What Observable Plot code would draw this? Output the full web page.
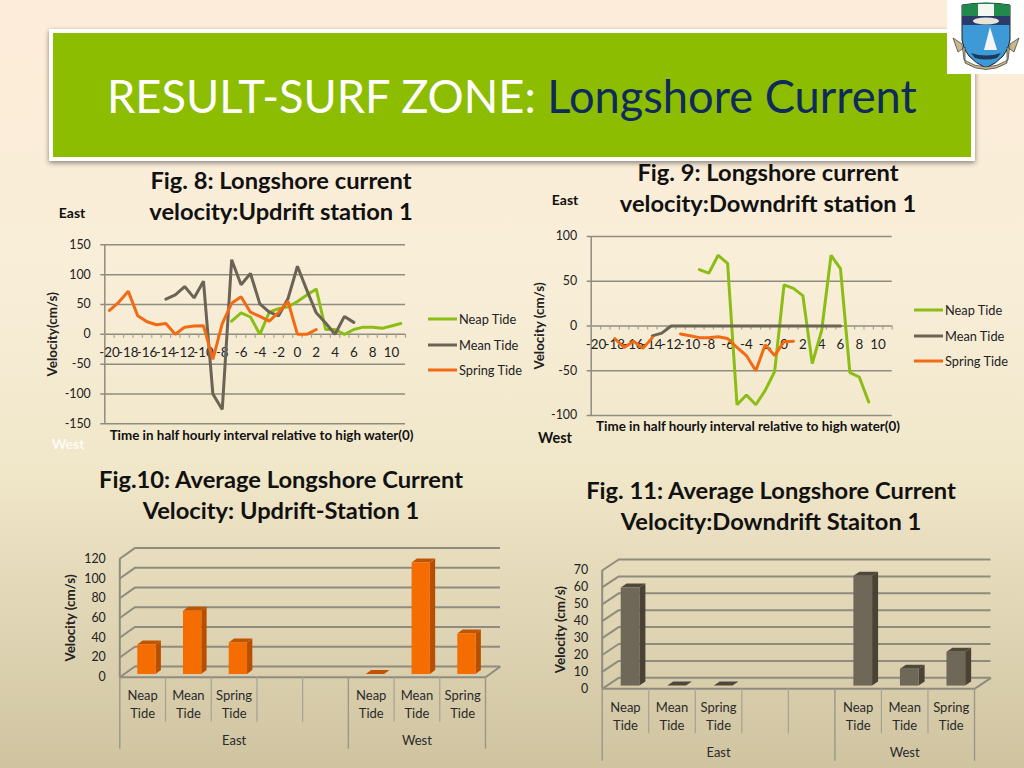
<!DOCTYPE html>
<html><head><meta charset="utf-8">
<script src="https://cdn.jsdelivr.net/npm/d3@7"></script>
<script src="https://cdn.jsdelivr.net/npm/@observablehq/plot@0.6"></script>
<style>
html,body{margin:0;padding:0;width:1024px;height:768px;overflow:hidden}
body{position:relative;font-family:Lato,"Open Sans",sans-serif;background:linear-gradient(180deg,#fdecd9 0%,#f8eed8 38%,#f0e6c8 62%,#cfc3a0 100%)}
.abs{position:absolute;white-space:nowrap}
.hdr{left:49px;top:29px;width:918px;height:124px;background:#8cbd00;border:4px solid #fff;box-shadow:0 2px 5px rgba(0,0,0,.45)}
.ttl{left:107px;top:64px;font-size:47px;line-height:62px;color:#fff;transform:scaleX(.962);transform-origin:left center}
.ttl span{color:#0f2a5c}
.fig{font-weight:700;font-size:23.7px;line-height:31px;color:#111;text-align:center;transform:translateX(-50%)}
.dir{font-weight:700;color:#111;transform:translate(-50%,-50%)}
.leg{font-size:12.8px;color:#222;line-height:14px;transform:translateY(-50%)}
.sw{position:absolute;height:3px;transform:translateY(-50%)}
.c{position:absolute}
</style></head><body>
<div class="abs hdr"></div>
<div class="abs ttl">RESULT-SURF ZONE: <span>Longshore Current</span></div>
<svg class="abs" style="left:947px;top:0" width="77" height="74" viewBox="0 0 77 74">
<rect width="77" height="74" fill="#fff"/>
<path d="M15 5Q39 1 63 5L63 40Q61 58 39 68Q17 58 15 40Z" fill="#3d9ad6" stroke="#222" stroke-width="1"/>
<path d="M15 5Q39 1 63 5L63 16L15 16Z" fill="#1f8a4c"/>
<rect x="31" y="4" width="16" height="12" fill="#f4f7f0"/>
<rect x="15" y="16" width="48" height="9" fill="#2b3a6b"/>
<ellipse cx="39" cy="21" rx="13" ry="3.5" fill="#e9e6d6"/>
<path d="M43 27L50 50L37 50Z" fill="#f3f5f7"/>
<path d="M24 53Q39 58 54 53L50 58Q39 61 28 58Z" fill="#1d3a5a"/>
<path d="M6 38L15 44L17 60Q39 74 61 60L63 44L72 38L67 52L60 47L60 63Q39 76 18 63L18 47L11 52Z" fill="#c9b98a" stroke="#333" stroke-width=".7"/>
</svg>
<div class="abs fig" style="left:281px;top:165px">Fig. 8: Longshore current<br>velocity:Updrift station 1</div>
<div class="abs fig" style="left:768px;top:157px">Fig. 9: Longshore current<br>velocity:Downdrift station 1</div>
<div class="abs fig" style="left:281px;top:464px">Fig.10: Average Longshore Current<br>Velocity: Updrift-Station 1</div>
<div class="abs fig" style="left:771px;top:475px">Fig. 11: Average Longshore Current<br>Velocity:Downdrift Staiton 1</div>
<div class="abs dir" style="left:72px;top:212px;font-size:14px">East</div>
<div class="abs dir" style="left:565px;top:199px;font-size:14px">East</div>
<div class="abs dir" style="left:68px;top:443px;font-size:14px;color:#fff;opacity:.85">West</div>
<div class="abs dir" style="left:555px;top:437px;font-size:14.5px">West</div>
<script>
// Time axis (half-hourly intervals relative to high water)
const times = d3.range(-20, 12);
const timeLabels = [-20,-18,-16,-14,-12,-10,-8,-6,-4,-2,0,2,4,6,8,10];
const tideNames = ["Neap Tide","Mean Tide","Spring Tide"];
const tideColors = ["#8cbd14","#6b6454","#f26a14"];
const _ = null;

// Fig. 8 Updrift
const neap8 = [_,_,_,_,_,_,_,_,_,_,_,_,_,22,36,29,0,37,43,46,55,66,76,8,8,0,8,12,12,10,14,18];
const mean8 = [_,_,_,_,_,_,59,66,80,61,89,-100,-126,125,83,102,51,37,31,60,114,74,36,19,0,30,20,_,_,_,_,_];
const spring8 = [40,54,72,31,21,16,18,0,12,14,14.5,-42,18,52,63,37,30,22,37,55,0,0,8,_,_,_,_,_,_,_,_,_];
const yTicks8 = [-150,-100,-50,0,50,100,150];

// Fig. 9 Downdrift
const neap9 = [_,_,_,_,_,_,_,_,_,_,_,63,59,79,70,-88,-77,-88,-72,-51,46,42,34,-42,-5,79,64,-52,-57,-85,_,_];
const mean9 = [_,_,_,_,_,_,-11,-8,0,0,0,0,0,0,0,0,0,0,0,0,0,0,0,0,0,0,0,_,_,_,_,_];
const spring9 = [_,_,-14,-24,-17,-25,-13,_,_,-9,-11,-13,-13,-12,-14,-24,-33,-50,-21,-33,-17.5,-17,_,_,_,_,_,_,_,_,_,_];
const yTicks9 = [-100,-50,0,50,100];

// Fig. 10 / 11 averages: East Neap, Mean, Spring, two blanks, West Neap, Mean, Spring
const avg10 = [30,64,32,_,_,0,113,41];
const avg11 = [58,0,0,_,_,65,10,20];
const slotNames = [["Neap","Tide"],["Mean","Tide"],["Spring","Tide"],_,_,["Neap","Tide"],["Mean","Tide"],["Spring","Tide"]];
const groups = [{name:"East",a:0,b:5},{name:"West",a:5,b:8}];
const yTicks10 = [0,20,40,60,80,100,120];
const yTicks11 = [0,10,20,30,40,50,60,70];

const FONT = "Lato, 'Open Sans', sans-serif";
const GRID = "#8f8c7e";

function place(svg,l,t){svg.style.position="absolute";svg.style.left=l+"px";svg.style.top=t+"px";svg.style.maxWidth="none";document.body.appendChild(svg);}
function legend(lx,tx,ys){
  tideNames.forEach((n,i)=>{
    const s=document.createElement("div");s.className="sw";
    s.style.cssText+=`left:${lx}px;top:${ys[i]}px;width:${tx-lx-2}px;background:${tideColors[i]}`;
    document.body.appendChild(s);
    const d=document.createElement("div");d.className="abs leg";d.textContent=n;
    d.style.left=tx+"px";d.style.top=ys[i]+"px";
    document.body.appendChild(d);
  });
}
function lineChart(c){
  const edges=d3.range(-20.5,12);
  const series=[c.neap,c.mean,c.spring];
  const unit=(c.yDomain[1]-c.yDomain[0])/(c.height-c.mt-c.mb);
  const svg=Plot.plot({
    width:c.width,height:c.height,marginLeft:c.ml,marginRight:c.mr,marginTop:c.mt,marginBottom:c.mb,
    style:{background:"transparent",fontFamily:FONT,overflow:"visible"},
    x:{domain:[-20.5,11.5],axis:null},
    y:{domain:c.yDomain},
    marks:[
      Plot.ruleY(c.yTicks,{stroke:GRID,strokeWidth:1.5,insetLeft:-4}),
      Plot.ruleX([-20.5],{y1:c.yDomain[0],y2:c.yDomain[1],stroke:GRID,strokeWidth:1.5}),
      Plot.ruleX(edges,{y1:0,y2:-4*unit,stroke:"#a5a294",strokeWidth:1.2}),
      Plot.axisY({ticks:c.yTicks,tickSize:0,tickPadding:c.pad,label:null,fontSize:12.4,color:"#222",tickFormat:d=>String(d)}),
      Plot.text(timeLabels,{x:d=>d,y:0,dy:c.tickDy,text:d=>String(d),fontSize:13.4,fill:"#222"}),
      ...series.map((s,k)=>Plot.line(times,{x:d=>d,y:(d,i)=>s[i],stroke:tideColors[k],strokeWidth:3,strokeLinejoin:"miter"})),
      Plot.text([c.ylabel],{frameAnchor:"left",textAnchor:"middle",rotate:-90,dx:c.ylabelDx,fontSize:13.4,fontWeight:700,fill:"#222"}),
      Plot.text([c.xlabel],{frameAnchor:"bottom",lineAnchor:"middle",dx:c.xlabelDx,dy:c.xlabelDy,fontSize:13.4,fontWeight:700,fill:"#111"})
    ]
  });
  place(svg,c.left,c.top);
}
function barChart(c){
  const xpu=(c.width-c.ml-c.mr)/8;
  const ypu=(c.height-c.mt-c.mb)/c.yMax;
  const wallDx=c.wall[0]/xpu, wallDy=c.wall[1]/ypu;
  const bx0=c.bar.off/xpu, bw=c.bar.w/xpu, bdx=c.bar.dx/xpu, bdy=c.bar.dy/ypu, base=c.bar.base/ypu;
  const bars=c.values.map((v,i)=>v==null?null:{i,v,xl:i+bx0,xr:i+bx0+bw,y0:base,yt:base+v}).filter(Boolean);
  const side=bars.flatMap(b=>[{z:b.i,x:b.xr,y1:b.y0,y2:b.yt},{z:b.i,x:b.xr+bdx,y1:b.y0+bdy,y2:b.yt+bdy}]);
  const top=bars.flatMap(b=>[
    {z:b.i,x:b.xl,y1:b.yt,y2:b.yt},
    {z:b.i,x:b.xl+bdx,y1:b.yt,y2:b.yt+bdy},
    {z:b.i,x:b.xr,y1:b.yt,y2:b.yt+bdy},
    {z:b.i,x:b.xr+bdx,y1:b.yt+bdy,y2:b.yt+bdy}]);
  const labelRows=c.values.flatMap((v,i)=>slotNames[i]?slotNames[i].map((t,k)=>({x:i+.5,k,t})):[]);
  const shortEdges=d3.range(1,8).filter(i=>i!==5);
  const longEdges=[0,5,8];
  const svg=Plot.plot({
    width:c.width,height:c.height,marginLeft:c.ml,marginRight:c.mr,marginTop:c.mt,marginBottom:c.mb,
    style:{background:"transparent",fontFamily:FONT,overflow:"visible"},
    x:{domain:[0,8],axis:null},
    y:{domain:[0,c.yMax]},
    marks:[
      Plot.ruleY(c.yTicks,{x1:wallDx,x2:8+wallDx,y:d=>d+wallDy,stroke:GRID,strokeWidth:2}),
      Plot.link(c.yTicks,{x1:0,x2:wallDx,y1:d=>d,y2:d=>d+wallDy,stroke:GRID,strokeWidth:2}),
      Plot.ruleX([0],{y1:0,y2:c.yMax,stroke:GRID,strokeWidth:2}),
      Plot.ruleY([0],{x1:0,x2:8,stroke:GRID,strokeWidth:2}),
      Plot.link([0],{x1:8,x2:8+wallDx,y1:0,y2:wallDy,stroke:GRID,strokeWidth:2}),
      Plot.axisY({ticks:c.yTicks,tickSize:0,tickPadding:c.pad,label:null,fontSize:12.4,color:"#222",tickFormat:d=>String(d)}),
      Plot.area(side,{x1:"x",y1:"y1",y2:"y2",z:"z",fill:c.colors[1]}),
      Plot.area(top,{x1:"x",y1:"y1",y2:"y2",z:"z",fill:c.colors[2]}),
      Plot.rect(bars,{x1:"xl",x2:"xr",y1:"y0",y2:"yt",fill:c.colors[0]}),
      Plot.ruleX(shortEdges,{y1:0,y2:-c.drop[0]/ypu,stroke:"#a5a294",strokeWidth:1.2}),
      Plot.ruleX(longEdges,{y1:0,y2:-c.drop[1]/ypu,stroke:"#9a9788",strokeWidth:1.4}),
      Plot.text(labelRows.filter(d=>d.k===0),{x:"x",y:0,dy:c.labelDy[0],text:"t",fontSize:13,fill:"#2a2a2a"}),
      Plot.text(labelRows.filter(d=>d.k===1),{x:"x",y:0,dy:c.labelDy[1],text:"t",fontSize:13,fill:"#2a2a2a"}),
      Plot.text(groups,{x:d=>(d.a+d.b)/2,y:0,dy:c.groupDy,text:"name",fontSize:13,fill:"#2a2a2a"}),
      Plot.text([c.ylabel],{frameAnchor:"left",textAnchor:"middle",rotate:-90,dx:c.ylabelDx,dy:c.ylabelDy,fontSize:13.4,fontWeight:700,fill:"#222"})
    ]
  });
  place(svg,c.left,c.top);
}
const xlab="Time in half hourly interval relative to high water(0)";
lineChart({left:40,top:200,width:490,height:250,ml:64.3,mr:125,mt:44.3,mb:26.7,yDomain:[-150,150],yTicks:yTicks8,pad:14,
  neap:neap8,mean:mean8,spring:spring8,tickDy:18.7,ylabel:"Velocity(cm/s)",ylabelDx:-51.6,xlabel:xlab,xlabelDx:6.4,xlabelDy:11.7});
legend(428,459,[318.7,344.5,370]);
lineChart({left:530,top:190,width:490,height:260,ml:60.7,mr:128.3,mt:46,mb:35,yDomain:[-100,100],yTicks:yTicks9,pad:14,
  neap:neap9,mean:mean9,spring:spring9,tickDy:19,ylabel:"Velocity (cm/s)",ylabelDx:-51.4,xlabel:xlab,xlabelDx:6.3,xlabelDy:11});
legend(914,945,[310,335.5,361.3]);
barChart({left:50,top:540,width:460,height:228,ml:69.3,mr:25,mt:18.3,mb:91.3,yMax:120,yTicks:yTicks10,values:avg10,
  colors:["#f56c00","#b84f00","#c05400"],wall:[15,10.7],bar:{off:18,w:18.3,dx:5.3,dy:4,base:2.7},pad:14,
  drop:[45,72],labelDy:[19,36.6],groupDy:64,ylabel:"Velocity (cm/s)",ylabelDx:-48.6,ylabelDy:0});
barChart({left:540,top:550,width:470,height:218,ml:61.7,mr:36,mt:20,mb:79.7,yMax:70,yTicks:yTicks11,values:avg11,
  colors:["#6f6858","#4a4335","#4f483a"],wall:[16.5,11],bar:{off:19,w:18.7,dx:6,dy:4,base:2.7},pad:14,
  drop:[45,72.5],labelDy:[19,36.7],groupDy:64,ylabel:"Velocity (cm/s)",ylabelDx:-41,ylabelDy:0});
</script>
</body></html>
